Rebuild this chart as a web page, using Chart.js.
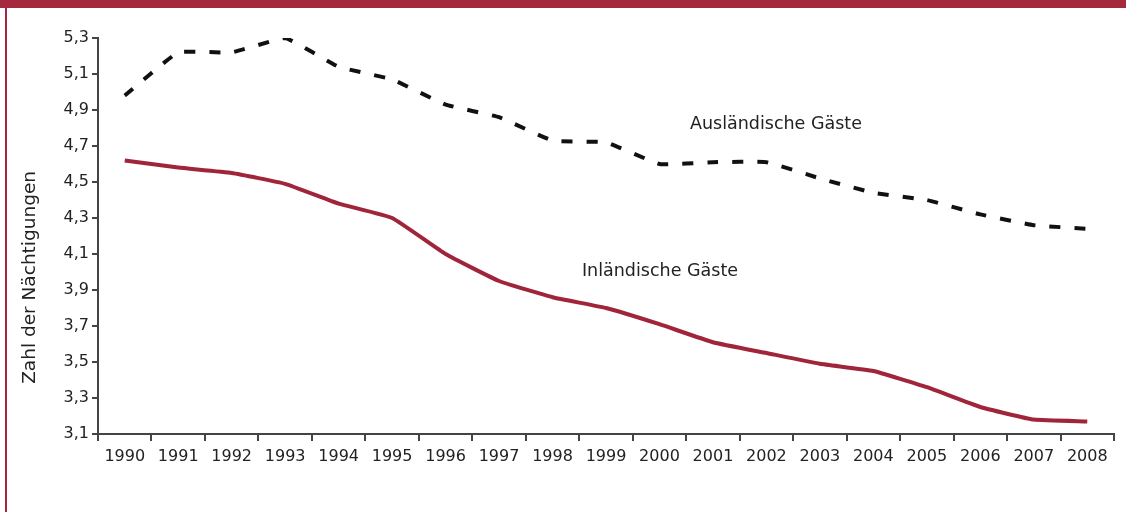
<!DOCTYPE html>
<html>
<head>
<meta charset="utf-8">
<script src="https://cdn.jsdelivr.net/npm/chart.js"></script>
<style>
  body { margin: 0; background: #fff; }
  #wrap { position: relative; width: 1126px; height: 512px; }
  #band { position: absolute; left: 0; top: 0; width: 1126px; height: 8px; background: #a5293e; }
  #side { position: absolute; left: 5px; top: 0; width: 2px; height: 512px; background: #a5293e; }
</style>
</head>
<body>
<div id="wrap">
  <canvas id="grafica"></canvas>
  <div id="band"></div>
  <div id="side"></div>
</div>
<script>
// Jahre und Nächtigungen pro Gast
const jahre = ['1990', '1991', '1992', '1993', '1994', '1995', '1996', '1997', '1998', '1999',
  '2000', '2001', '2002', '2003', '2004', '2005', '2006', '2007', '2008'];
const inlaendisch = [4.62, 4.58, 4.55, 4.49, 4.38, 4.30, 4.10, 3.95, 3.86, 3.80,
  3.71, 3.61, 3.55, 3.49, 3.45, 3.36, 3.25, 3.18, 3.17];
const auslaendisch = [4.98, 5.22, 5.22, 5.30, 5.14, 5.07, 4.93, 4.86, 4.73, 4.72,
  4.60, 4.61, 4.61, 4.52, 4.44, 4.40, 4.32, 4.26, 4.24];
const yTicks = [3.1, 3.3, 3.5, 3.7, 3.9, 4.1, 4.3, 4.5, 4.7, 4.9, 5.1, 5.3];
const yTitel = 'Zahl der Nächtigungen';
// Beschriftungen im Diagramm (Kategorie-Index, Wert)
const beschriftungen = [
  { text: 'Ausländische Gäste', idx: 10.57, wert: 4.82 },
  { text: 'Inländische Gäste', idx: 8.55, wert: 4.005 }
];

const textFarbe = '#222';
const achsenFarbe = '#444';

const labelPlugin = {
  id: 'beschriftung',
  afterDatasetsDraw(chart) {
    const ctx = chart.ctx;
    const x = chart.scales.x, y = chart.scales.y;
    ctx.save();
    ctx.font = '17.5px "DejaVu Sans"';
    ctx.fillStyle = textFarbe;
    ctx.textAlign = 'left';
    ctx.textBaseline = 'middle';
    beschriftungen.forEach(b => {
      ctx.fillText(b.text, x.getPixelForValue(b.idx), y.getPixelForValue(b.wert));
    });
    // Achsentitel, etwas unterhalb der Mitte wie im Original
    ctx.translate(30, y.getPixelForValue(3.97));
    ctx.rotate(-Math.PI / 2);
    ctx.textAlign = 'center';
    ctx.font = '18.5px "DejaVu Sans"';
    ctx.fillText(yTitel, 0, 0);
    ctx.restore();
  }
};

const ctx = document.getElementById('grafica').getContext('2d');
const grafica = new Chart(ctx, {
  type: 'line',
  data: {
    labels: jahre,
    datasets: [
      {
        label: 'Inländische Gäste',
        data: inlaendisch,
        borderColor: '#a0253a',
        borderWidth: 4,
        tension: 0.12,
        pointRadius: 0,
        fill: false
      },
      {
        label: 'Ausländische Gäste',
        data: auslaendisch,
        borderColor: '#111',
        borderWidth: 4,
        borderDash: [11, 14],
        tension: 0.1,
        pointRadius: 0,
        fill: false
      }
    ]
  },
  options: {
    responsive: true,
    maintainAspectRatio: false,
    animation: false,
    layout: { padding: { top: 38, right: 12, left: 0, bottom: 0 } },
    plugins: {
      legend: { display: false },
      tooltip: { enabled: false }
    },
    scales: {
      x: {
        offset: true,
        grid: { offset: true, drawOnChartArea: false, tickLength: 7, color: achsenFarbe, lineWidth: 2 },
        border: { color: achsenFarbe, width: 2 },
        ticks: { font: { family: 'DejaVu Sans', size: 16 }, color: textFarbe, padding: 6, maxRotation: 0 },
        afterFit: s => { s.height = 78; }
      },
      y: {
        min: 3.1,
        max: 5.3,
        afterBuildTicks: s => { s.ticks = yTicks.map(v => ({ value: v })); },
        grid: { drawOnChartArea: false, tickLength: 6, color: achsenFarbe, lineWidth: 2 },
        border: { color: achsenFarbe, width: 2 },
        ticks: {
          font: { family: 'DejaVu Sans', size: 16 },
          color: textFarbe,
          padding: 3,
          callback: v => v.toFixed(1).replace('.', ',')
        },
        afterFit: s => { s.width = 98; }
      }
    }
  },
  plugins: [labelPlugin]
});
</script>
</body>
</html>
